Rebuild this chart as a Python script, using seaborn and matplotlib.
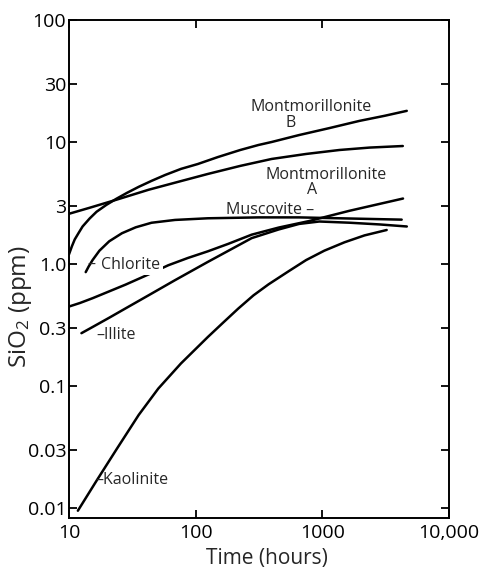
import matplotlib
matplotlib.use('Agg')
import pandas as pd
import matplotlib.pyplot as plt
import seaborn as sns

# Dissolution curves (time in hours, SiO2 in ppm)
mont_b_time = [10, 10.55, 11.1, 11.96, 12.8, 14.55, 16.5, 19.7, 23.6, 28.7, 35.5,
               44.8, 57.5, 76.6, 104, 150, 225, 313, 398, 655, 1136, 1966, 3105, 4640]
mont_b_sio2 = [1.2, 1.40, 1.59, 1.81, 2.03, 2.36, 2.68, 3.05, 3.42, 3.83, 4.29,
               4.80, 5.37, 6.02, 6.6, 7.53, 8.6, 9.45, 10.0, 11.4, 13.0, 14.9, 16.4, 18.0]

mont_a_time = [10, 14.55, 23.6, 42.5, 72.5, 124.7, 225, 398, 745, 1365, 2360, 4318]
mont_a_sio2 = [2.58, 2.89, 3.36, 4.06, 4.71, 5.47, 6.37, 7.26, 7.98, 8.6, 9.0, 9.27]

chlorite_time = [13.55, 14.29, 15.35, 17.39, 20.77, 26.2, 33.65, 44.8, 68.7, 124.7,
                 313, 655, 1637, 4230]
chlorite_sio2 = [0.858, 0.953, 1.077, 1.286, 1.535, 1.788, 1.999, 2.178, 2.297, 2.37,
                 2.41, 2.41, 2.36, 2.31]

muscovite_time = [10, 12.2, 15.4, 20.8, 28, 42.5, 60.7, 86.7, 124.7, 180, 277,
                  453, 787, 1637, 4335]
muscovite_sio2 = [0.448, 0.479, 0.525, 0.597, 0.678, 0.822, 0.976, 1.12, 1.27, 1.46,
                  1.74, 1.99, 2.25, 2.73, 3.44]

illite_time = [12.54, 15.4, 20.8, 28, 42.5, 68.4, 124.7, 277, 453, 655, 946,
               1637, 2831, 4645]
illite_sio2 = [0.271, 0.305, 0.363, 0.433, 0.554, 0.735, 1.04, 1.63, 1.92, 2.13,
               2.23, 2.18, 2.11, 2.03]

kaolinite_time = [11.75, 16.48, 23.98, 35.5, 50.7, 76.5, 124.7, 164.4, 216.8, 285.8,
                  376.7, 544.5, 744.7, 1037, 1495, 2154, 3221]
kaolinite_sio2 = [0.0095, 0.0167, 0.0308, 0.0579, 0.0953, 0.153, 0.252, 0.330, 0.431,
                  0.553, 0.682, 0.875, 1.077, 1.286, 1.506, 1.716, 1.90]

x_ticks = [10, 100, 1000, 10000]
x_tick_labels = ['10', '100', '1000', '10,000']
y_ticks = [0.01, 0.03, 0.1, 0.3, 1, 3, 10, 30, 100]
y_tick_labels = ['0.01', '0.03', '0.1', '0.3', '1.0', '3', '10', '30', '100']


def build_frame():
    curves = {
        'Montmorillonite B': (mont_b_time, mont_b_sio2),
        'Montmorillonite A': (mont_a_time, mont_a_sio2),
        'Chlorite': (chlorite_time, chlorite_sio2),
        'Muscovite': (muscovite_time, muscovite_sio2),
        'Illite': (illite_time, illite_sio2),
        'Kaolinite': (kaolinite_time, kaolinite_sio2),
    }
    frames = []
    for name, (t, s) in curves.items():
        frames.append(pd.DataFrame({'time': t, 'sio2': s, 'mineral': name}))
    return pd.concat(frames, ignore_index=True)


def main():
    sns.set_style('ticks')
    plt.rcParams['font.family'] = ['Open Sans', 'DejaVu Sans']
    plt.rcParams['mathtext.fontset'] = 'custom'
    plt.rcParams['mathtext.rm'] = 'Open Sans'
    plt.rcParams['mathtext.it'] = 'Open Sans'

    df = build_frame()

    fig = plt.figure(figsize=(4.84, 5.69), dpi=100)
    ax = fig.add_axes([69 / 484, 51 / 569, 380 / 484, 498 / 569])

    minerals = df['mineral'].unique()
    sns.lineplot(data=df, x='time', y='sio2', hue='mineral',
                 palette={m: 'black' for m in minerals},
                 estimator=None, legend=False, linewidth=1.8, ax=ax)
    for line in ax.get_lines():
        line.set_solid_joinstyle('round')
        line.set_solid_capstyle('round')

    ax.set_xscale('log')
    ax.set_yscale('log')
    ax.set_xlim(10, 10000)
    ax.set_ylim(0.00828, 100)
    ax.set_xticks(x_ticks, x_tick_labels)
    ax.set_yticks(y_ticks, y_tick_labels)
    ax.minorticks_off()

    for side in ['left', 'right', 'top', 'bottom']:
        ax.spines[side].set_visible(True)
        ax.spines[side].set_linewidth(1.4)
        ax.spines[side].set_color('black')

    ax.tick_params(which='both', direction='in', top=True, right=True,
                   length=6, width=1.3, labelsize=14, colors='black')
    ax.tick_params(axis='y', pad=2)
    ax.tick_params(axis='x', pad=4)

    ax.set_xlabel('Time (hours)', fontsize=15)
    ax.set_ylabel('SiO$_2$ (ppm)', fontsize=17.5)
    ax.xaxis.set_label_coords(0.52, -0.06)
    ax.yaxis.set_label_coords(-0.093, 0.425)

    # curve labels
    fs = 11.5
    ax.text(817, 18.0, 'Montmorillonite', ha='center', va='baseline', fontsize=fs)
    ax.text(565, 13.3, 'B', ha='center', va='baseline', fontsize=fs)
    ax.text(1076, 4.99, 'Montmorillonite', ha='center', va='baseline', fontsize=fs)
    ax.text(832, 3.76, 'A', ha='center', va='baseline', fontsize=fs)
    ax.text(174, 2.58, 'Muscovite –', ha='left', va='baseline', fontsize=fs)
    ax.text(14.0, 0.912, '–', ha='left', va='baseline', fontsize=fs)
    ax.text(18.0, 0.912, 'Chlorite', ha='left', va='baseline', fontsize=fs,
            bbox=dict(facecolor='white', edgecolor='none', pad=1.5), zorder=3)
    ax.text(16.5, 0.243, '–Illite', ha='left', va='baseline', fontsize=fs)
    ax.text(16.2, 0.0157, '–Kaolinite', ha='left', va='baseline', fontsize=fs)

    fig.savefig('out.png', dpi=100)
    plt.close(fig)


if __name__ == '__main__':
    main()
